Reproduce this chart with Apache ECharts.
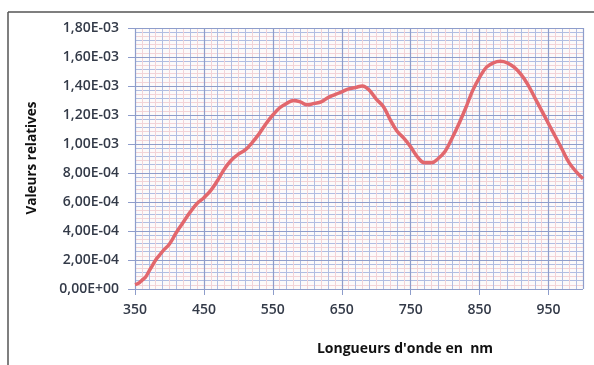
<!DOCTYPE html>
<html><head><meta charset="utf-8">
<script src="https://cdn.jsdelivr.net/npm/echarts@6/dist/echarts.min.js"></script>
<style>html,body{margin:0;padding:0;background:#fff}#c{width:594px;height:365px}</style>
</head><body><div id="c"></div>
<script>
const wavelengths = [350,355,360,365,370,375,380,385,390,400,410,420,430,440,450,460,470,480,490,500,510,520,530,540,550,560,570,580,590,600,610,620,630,640,650,660,670,680,690,700,710,720,730,740,750,760,770,780,790,800,810,820,830,840,850,860,870,880,890,900,910,920,930,940,950,960,970,980,990,1000];
const values = [0.00003,0.00004,0.00006,0.00008,0.00012,0.00016,0.00020,0.00023,0.00026,0.00031,0.00039,0.00046,0.00053,0.00059,0.00063,0.00068,0.00075,0.00083,0.00089,0.00093,0.00096,0.00101,0.00107,0.00114,0.00120,0.00125,0.00128,0.00130,0.00129,0.00127,0.00128,0.00129,0.00132,0.00134,0.00136,0.00138,0.00139,0.00140,0.00137,0.00131,0.00126,0.00117,0.00109,0.00104,0.00098,0.00091,0.00087,0.00087,0.00090,0.00095,0.00104,0.00114,0.00125,0.00137,0.00146,0.00153,0.00156,0.00157,0.00156,0.00153,0.00148,0.00141,0.00132,0.00123,0.00114,0.00105,0.00096,0.00087,0.00081,0.00076];
const xTicks = [350,450,550,650,750,850,950];
const yTicks = [0,0.0002,0.0004,0.0006,0.0008,0.001,0.0012,0.0014,0.0016,0.0018];
const xTitle = "Longueurs d'onde en  nm";
const yTitle = "Valeurs relatives";

function sci(v){
  if (Math.abs(v) < 1e-12) return '0,00E+00';
  const s = v.toExponential(2).split('e');
  let e = parseInt(s[1],10);
  const sign = e < 0 ? '-' : '+';
  e = Math.abs(e);
  return s[0].replace('.', ',') + 'E' + sign + (e < 10 ? '0' + e : '' + e);
}

const chart = echarts.init(document.getElementById('c'));
const labelFont = {fontFamily:'Open Sans', fontSize:14, fontWeight:600, color:'#333a48'};
const gridPos = {left:135, right:11, top:28, bottom:76};
const MAJ = '#8e9dcb', BLU = '#b0bde2', PNK = '#f2d3d7';
chart.setOption({
  animation:false,
  backgroundColor:'#ffffff',
  grid:[Object.assign({backgroundColor:'#fcfafa', show:true, borderWidth:0}, gridPos)],
  xAxis:[
    {type:'value', min:350, max:1000, interval:100, z:3,
     axisLine:{show:false},
     axisTick:{show:true, length:6, lineStyle:{color:MAJ}},
     axisLabel:Object.assign({margin:14, showMaxLabel:false,
        formatter:v => xTicks.indexOf(v) >= 0 ? String(v) : ''}, labelFont),
     splitLine:{show:true, lineStyle:{color:MAJ, width:1.2}}
    },
    {type:'value', min:350, max:1000, interval:10, show:true, z:1,
     axisLine:{show:false}, axisTick:{show:false}, axisLabel:{show:false},
     splitLine:{show:true, lineStyle:{color:[BLU, PNK], width:1}}}
  ],
  yAxis:[
    {type:'value', min:0, max:0.0018, interval:0.0002, z:3,
     axisLine:{show:false},
     axisTick:{show:true, length:7, lineStyle:{color:MAJ}},
     axisLabel:Object.assign({margin:16, formatter:v => sci(v)}, labelFont),
     splitLine:{show:true, lineStyle:{color:MAJ, width:1.2}}
    },
    {type:'value', min:0, max:0.0018, interval:0.0002/7, show:true, z:1, position:'left',
     axisLine:{show:false}, axisTick:{show:false}, axisLabel:{show:false},
     splitLine:{show:true, lineStyle:{color:[MAJ, PNK, BLU, PNK, BLU, PNK, BLU], width:1}}}
  ],
  series:[{
    type:'line', smooth:0.4, showSymbol:false, z:10,
    data:wavelengths.map((w,i)=>[w, values[i]]),
    lineStyle:{color:'#e2676d', width:3.5}
  }],
  graphic:[
    {type:'line', shape:{x1:8, y1:12, x2:594, y2:12}, style:{stroke:'#555', lineWidth:1.5}},
    {type:'line', shape:{x1:8, y1:12, x2:8, y2:365}, style:{stroke:'#555', lineWidth:1.5}},
    {type:'text', x:405, y:349, style:{text:xTitle, fontFamily:'Open Sans', fontSize:14, fontWeight:'bold', fill:'#111', textAlign:'center', textVerticalAlign:'middle'}},
    {type:'text', x:32, y:158, rotation:Math.PI/2, style:{text:yTitle, fontFamily:'Open Sans', fontSize:13.5, fontWeight:'bold', fill:'#111', textAlign:'center', textVerticalAlign:'middle'}}
  ]
});
</script></body></html>
